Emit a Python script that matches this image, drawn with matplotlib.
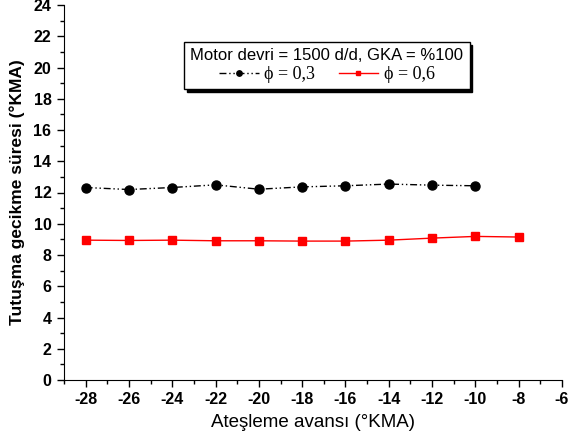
import matplotlib
matplotlib.use("Agg")
import matplotlib.pyplot as plt
from matplotlib.ticker import MultipleLocator

plt.rcParams["axes.unicode_minus"] = False
FAM = "Liberation Sans"
SERIF = ["Liberation Serif", "DejaVu Serif"]

x_03 = [-28, -26, -24, -22, -20, -18, -16, -14, -12, -10]
y_03 = [12.32, 12.19, 12.32, 12.49, 12.21, 12.36, 12.43, 12.54, 12.47, 12.43]
x_06 = [-28, -26, -24, -22, -20, -18, -16, -14, -12, -10, -8]
y_06 = [8.95, 8.93, 8.95, 8.91, 8.91, 8.89, 8.89, 8.95, 9.08, 9.19, 9.15]

fig = plt.figure(figsize=(5.77, 4.43), dpi=100)
ax = fig.add_axes([64/577, (443-380)/443, (562-64)/577, (380-5)/443])

ax.plot(x_03, y_03, color="black", linestyle=(0, (5, 2, 1, 2, 1, 2)), linewidth=1,
        marker="o", markersize=6.5, label="ϕ = 0,3")
ax.plot(x_06, y_06, color="#ff0000", linestyle="-", linewidth=1,
        marker="s", markersize=6, label="ϕ = 0,6")

ax.set_xlim(-29, -6)
ax.set_ylim(0, 24)
ax.xaxis.set_major_locator(MultipleLocator(2))
ax.xaxis.set_minor_locator(MultipleLocator(1))
ax.yaxis.set_major_locator(MultipleLocator(2))
ax.yaxis.set_minor_locator(MultipleLocator(1))
ax.spines["top"].set_visible(False)
ax.spines["right"].set_visible(False)
ax.tick_params(which="major", direction="out", length=5, width=1, pad=4)
ax.tick_params(which="minor", direction="out", length=3, width=1)
ax.set_xticks([-28, -26, -24, -22, -20, -18, -16, -14, -12, -10, -8, -6])
for lab in ax.get_xticklabels() + ax.get_yticklabels():
    lab.set_fontfamily(FAM)
    lab.set_fontweight("bold")
    lab.set_fontsize(11.5)

ax.set_xlabel("Ateşleme avansı (°KMA)", fontfamily=FAM, fontsize=13.5, labelpad=5)
ax.set_ylabel("Tutuşma gecikme süresi (°KMA)", fontfamily=FAM, fontsize=12.5,
              fontweight="bold", labelpad=6)

leg = ax.legend(title="Motor devri = 1500 d/d, GKA = %100", ncol=2, loc="upper left",
                bbox_to_anchor=((184-64)/498, (380-42)/375), borderaxespad=0,
                frameon=True, fancybox=False,
                shadow={"color": "black", "alpha": 1}, edgecolor="black",
                prop={"family": SERIF, "size": 13}, handlelength=2.2, markerscale=0.6,
                columnspacing=1.3, borderpad=0.35, labelspacing=0.15, handletextpad=0.3,
                alignment="center")
leg.get_title().set_fontfamily(FAM)
leg.get_title().set_fontsize(12)
leg.get_frame().set_linewidth(1)

fig.savefig("out.png", dpi=100)
